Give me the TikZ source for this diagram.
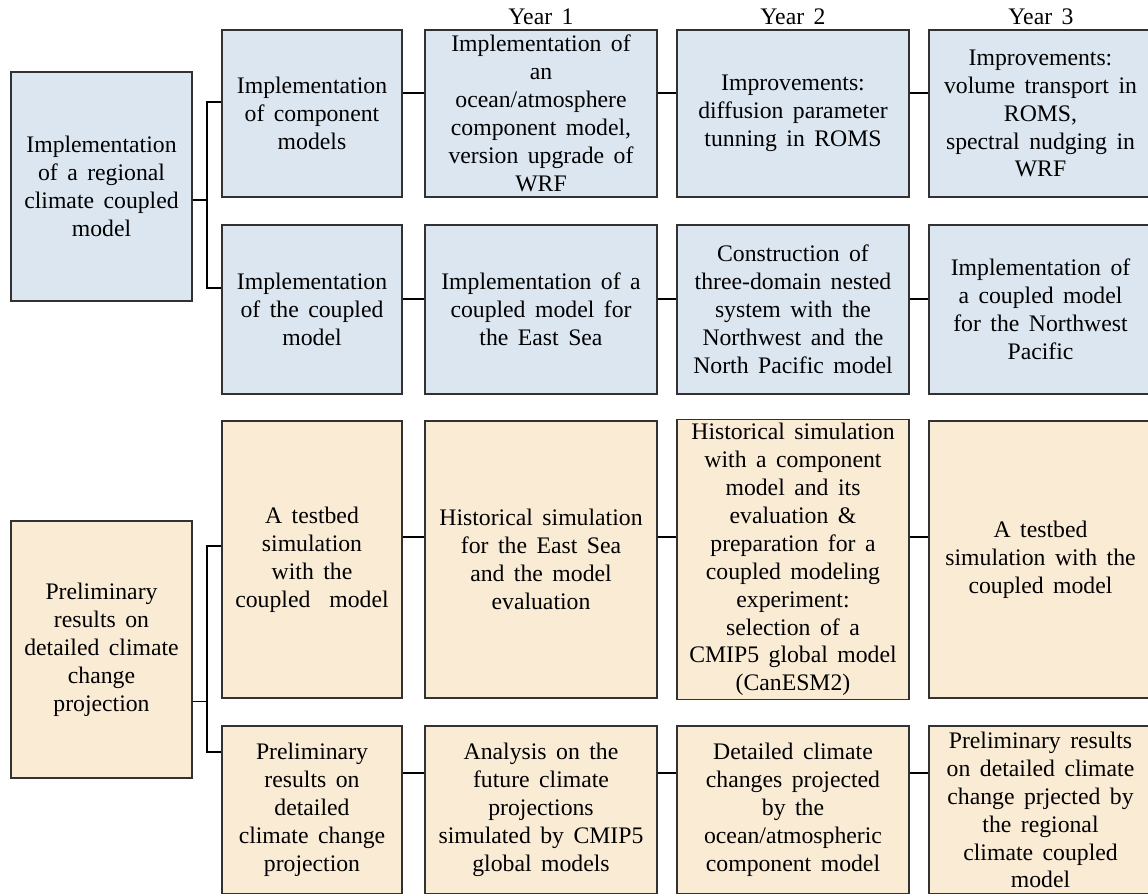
\documentclass[tikz,border=0pt]{standalone}
\usepackage{fontspec}
\setmainfont[WordSpace={1.6}]{Liberation Serif}
\usepackage{xcolor}
\definecolor{planblue}{RGB}{220,230,241}
\definecolor{planorange}{RGB}{250,235,212}
\definecolor{planedge}{RGB}{50,50,50}
\usetikzlibrary{positioning,calc}

\begin{document}
\begin{tikzpicture}[x=0.02cm,y=-0.02cm,
  planbox/.style={draw=planedge,line width=0.7pt,align=center,inner sep=2pt,
    font=\fontsize{13.5}{15.9}\selectfont},
  yearlabel/.style={inner sep=0pt,font=\fontsize{13.5}{15.9}\selectfont},
  link/.style={draw=black,line width=0.6pt}
]
  \useasboundingbox (0,0) rectangle (1148,893);
  % Years
  \node[yearlabel] (year1) at (541,17) {Year 1};
  \node[yearlabel] (year2) at (793,17) {Year 2};
  \node[yearlabel] (year3) at (1041,17) {Year 3};
  % Task 1
  \node[planbox,fill=planblue,minimum width=3.62cm,minimum height=4.58cm] (impl) at (101.5,186.5)
    {Implementation\\of a regional\\climate coupled\\model};
  % Row a
  \node[planbox,fill=planblue,minimum width=3.6cm,minimum height=3.34cm] (a2) at (312,113.5)
    {Implementation\\of component\\models};
  \node[planbox,fill=planblue,minimum width=4.64cm,minimum height=3.34cm] (a3) at (541,113.5)
    {Implementation of\\an\\ocean/atmosphere\\component model,\\version upgrade of\\WRF};
  \node[planbox,fill=planblue,minimum width=4.64cm,minimum height=3.34cm] (a4) at (793,113.5)
    {Improvements:\\diffusion parameter\\tunning in ROMS};
  \node[planbox,fill=planblue,minimum width=4.46cm,minimum height=3.34cm] (a5) at (1040.5,113.5)
    {Improvements:\\volume transport in\\ROMS,\\spectral nudging in\\WRF};
  % Row b
  \node[planbox,fill=planblue,minimum width=3.6cm,minimum height=3.38cm] (b2) at (312,309.5)
    {Implementation\\of the coupled\\model};
  \node[planbox,fill=planblue,minimum width=4.64cm,minimum height=3.38cm] (b3) at (541,309.5)
    {Implementation of a\\coupled model for\\the East Sea};
  \node[planbox,fill=planblue,minimum width=4.64cm,minimum height=3.38cm] (b4) at (793,309.5)
    {Construction of\\three-domain nested\\system with the\\Northwest and the\\North Pacific model};
  \node[planbox,fill=planblue,minimum width=4.46cm,minimum height=3.38cm] (b5) at (1040.5,309.5)
    {Implementation of\\a coupled model\\for the Northwest\\Pacific};
  % Task 2
  \node[planbox,fill=planorange,minimum width=3.62cm,minimum height=5.14cm] (prelim) at (101.5,649.5)
    {Preliminary\\results on\\detailed climate\\change\\projection};
  % Row c
  \node[planbox,fill=planorange,minimum width=3.6cm,minimum height=5.54cm] (c2) at (312,559.5)
    {A testbed\\simulation\\with the\\coupled \ model};
  \node[planbox,fill=planorange,minimum width=4.64cm,minimum height=5.54cm] (c3) at (541,559.5)
    {Historical simulation\\for the East Sea\\and the model\\evaluation};
  \node[planbox,fill=planorange,minimum width=4.64cm,minimum height=5.54cm] (c4) at (793,559.5)
    {Historical simulation\\with a component\\model and its\\evaluation \&\\preparation for a\\coupled modeling\\experiment:\\selection of a\\CMIP5 global model\\(CanESM2)};
  \node[planbox,fill=planorange,minimum width=4.46cm,minimum height=5.54cm] (c5) at (1040.5,559.5)
    {A testbed\\simulation with the\\coupled model};
  % Row d
  \node[planbox,fill=planorange,minimum width=3.6cm,minimum height=3.36cm] (d2) at (312,810)
    {Preliminary\\results on\\detailed\\climate change\\projection};
  \node[planbox,fill=planorange,minimum width=4.64cm,minimum height=3.36cm] (d3) at (541,810)
    {Analysis on the\\future climate\\projections\\simulated by CMIP5\\global models};
  \node[planbox,fill=planorange,minimum width=4.64cm,minimum height=3.36cm] (d4) at (793,810)
    {Detailed climate\\changes projected\\by the\\ocean/atmospheric\\component model};
  \node[planbox,fill=planorange,minimum width=4.46cm,minimum height=3.36cm] (d5) at (1040.5,810)
    {Preliminary results\\on detailed climate\\change prjected by\\the regional\\climate coupled\\model};
  % Brackets
  \coordinate (jtop) at (207,200);
  \coordinate (jbot) at (207,701.5);
  \draw[link] (impl.east |- jtop) -- (jtop);
  \draw[link] ($(a2.west)+(0,-11.5)$) -| (jtop) |- ($(b2.west)+(0,-21.5)$);
  \draw[link] (prelim.east |- jbot) -- (jbot);
  \draw[link] ($(c2.west)+(0,-13.5)$) -| (jbot) |- ($(d2.west)+(0,-58)$);
  % Row links
  \coordinate (ya) at (0,93);
  \coordinate (yb) at (0,299);
  \coordinate (yc) at (0,537);
  \coordinate (yd) at (0,773);
  \foreach \row/\y in {a/ya,b/yb,c/yc,d/yd}
    \foreach \from/\to in {2/3,3/4,4/5}
      \draw[link] (\row\from.east |- \y) -- (\row\to.west |- \y);
\end{tikzpicture}
\end{document}
